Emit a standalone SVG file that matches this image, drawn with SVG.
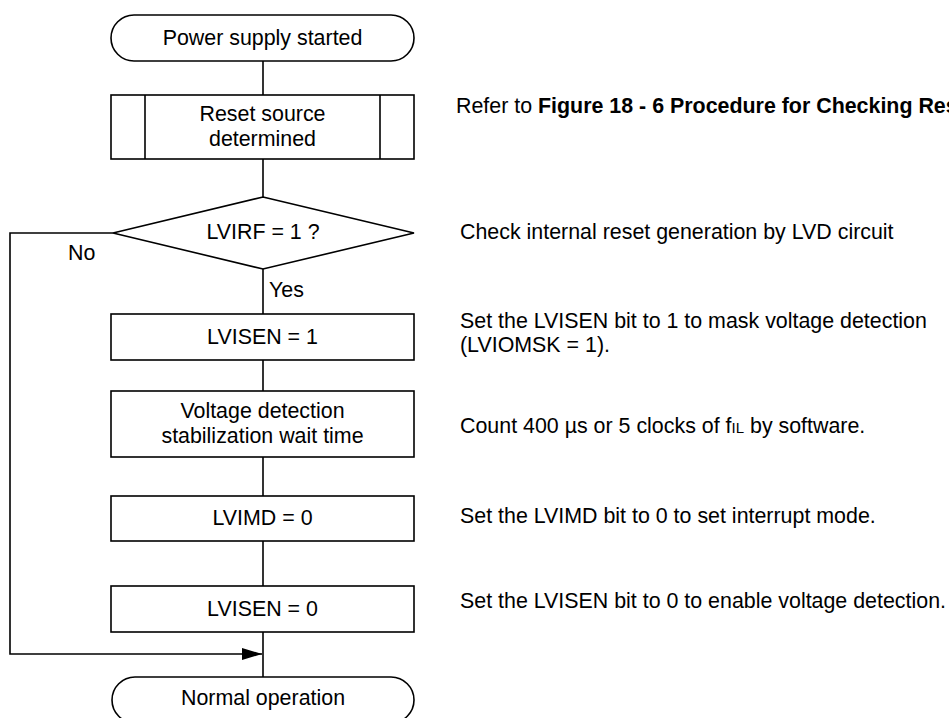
<svg xmlns="http://www.w3.org/2000/svg" width="949" height="718" viewBox="0 0 949 718">
<defs>
<style>
.s{fill:#fff;stroke:#000;stroke-width:1.6}
.c{fill:none;stroke:#000;stroke-width:1.6}
text{font-family:"Liberation Sans",Arial,sans-serif;font-size:21.4px;fill:#000}
.m{text-anchor:middle}
.b{font-weight:bold}
</style>
<marker id="ah" markerWidth="20" markerHeight="12" refX="20" refY="6" orient="auto" markerUnits="userSpaceOnUse">
<path d="M0,0 L20,6 L0,12 Z" fill="#000"/>
</marker>
</defs>
<rect width="949" height="718" fill="#fff"/>
<g id="connectors">
<line class="c" x1="263" y1="61" x2="263" y2="95"/>
<line class="c" x1="263" y1="159" x2="263" y2="197"/>
<line class="c" x1="263" y1="269" x2="263" y2="314"/>
<line class="c" x1="263" y1="360" x2="263" y2="391"/>
<line class="c" x1="263" y1="457" x2="263" y2="496"/>
<line class="c" x1="263" y1="541" x2="263" y2="586"/>
<line class="c" x1="263" y1="632" x2="263" y2="677"/>
<polyline class="c" points="113,233 10,233 10,654 262,654" marker-end="url(#ah)"/>
<text x="68" y="260">No</text>
<text x="269" y="297">Yes</text>
</g>
<g id="start">
<rect class="s" x="111" y="15" width="303" height="46" rx="23" ry="23"/>
<text class="m" x="262.5" y="45">Power supply started</text>
</g>
<g id="reset-source">
<rect class="s" x="111" y="95" width="303" height="64"/>
<line class="c" x1="145" y1="95" x2="145" y2="159"/>
<line class="c" x1="380" y1="95" x2="380" y2="159"/>
<text class="m" x="262.5" y="121">Reset source</text>
<text class="m" x="262.5" y="146">determined</text>
</g>
<g id="decision">
<polygon class="s" points="263,197 414,233 263,269 113,233"/>
<text class="m" x="263" y="239">LVIRF = 1 ?</text>
</g>
<g id="lvisen1">
<rect class="s" x="111" y="314" width="303" height="46"/>
<text class="m" x="262.5" y="344">LVISEN = 1</text>
</g>
<g id="wait">
<rect class="s" x="111" y="391" width="303" height="66"/>
<text class="m" x="262.5" y="418">Voltage detection</text>
<text class="m" x="262.5" y="443">stabilization wait time</text>
</g>
<g id="lvimd0">
<rect class="s" x="111" y="496" width="303" height="45"/>
<text class="m" x="262.5" y="525">LVIMD = 0</text>
</g>
<g id="lvisen0">
<rect class="s" x="111" y="586" width="303" height="46"/>
<text class="m" x="262.5" y="616">LVISEN = 0</text>
</g>
<g id="end">
<rect class="s" x="112" y="677" width="302" height="46" rx="23" ry="23"/>
<text class="m" x="263" y="705">Normal operation</text>
</g>
<g id="notes">
<text x="456" y="113">Refer to <tspan class="b">Figure 18 - 6 Procedure for Checking Reset Source</tspan></text>
<text x="460" y="239">Check internal reset generation by LVD circuit</text>
<text x="460" y="328">Set the LVISEN bit to 1 to mask voltage detection</text>
<text x="460" y="352">(LVIOMSK = 1).</text>
<text x="460" y="433">Count 400 µs or 5 clocks of f<tspan font-size="15">IL</tspan> by software.</text>
<text x="460" y="523">Set the LVIMD bit to 0 to set interrupt mode.</text>
<text x="460" y="608">Set the LVISEN bit to 0 to enable voltage detection.</text>
</g>
</svg>
